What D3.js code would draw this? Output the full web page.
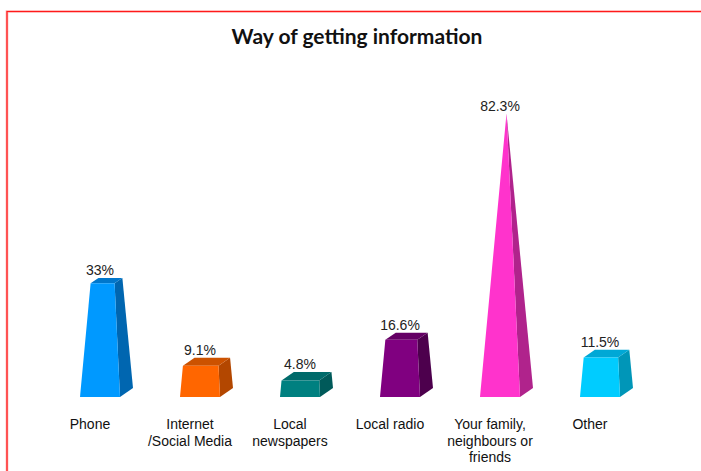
<!DOCTYPE html>
<html>
<head>
<meta charset="utf-8">
<script src="https://cdn.jsdelivr.net/npm/d3@7/dist/d3.min.js"></script>
<style>
  html, body { margin: 0; padding: 0; background: #fff; }
  svg { display: block; }
</style>
</head>
<body>
<script>
// Survey results: how people get information
const categories = [
  "Phone",
  "Internet\n/Social Media",
  "Local\nnewspapers",
  "Local radio",
  "Your family,\nneighbours or\nfriends",
  "Other"
];
const values = [33, 9.1, 4.8, 16.6, 82.3, 11.5];
const valueLabels = ["33%", "9.1%", "4.8%", "16.6%", "82.3%", "11.5%"];

// front / side / top shades for each pyramid
const frontColors = ["#0099ff", "#ff6600", "#008080", "#800080", "#ff33cc", "#00ccff"];
const sideColors  = ["#0066b0", "#b34700", "#005a5a", "#4d004d", "#b0238c", "#0096b8"];
const topColors   = ["#0077cc", "#cc5200", "#006b6b", "#650065", "#d92bae", "#00a8d6"];

const W = 701, H = 471;
const svg = d3.select("body").append("svg").attr("width", W).attr("height", H);

// outer frame
svg.append("path")
  .attr("d", `M7,${H} L7,11.5 L${W},11.5`)
  .attr("fill", "none").attr("stroke", "#ffaaaa").attr("stroke-width", 2.6);
svg.append("path")
  .attr("d", `M7,${H} L7,11.5 L${W},11.5`)
  .attr("fill", "none").attr("stroke", "#ff1a1a").attr("stroke-width", 1.2);

svg.append("text")
  .attr("x", 357).attr("y", 44)
  .attr("text-anchor", "middle")
  .attr("font-family", "Lato, 'Open Sans', sans-serif")
  .attr("font-weight", "bold")
  .attr("font-size", 21)
  .attr("fill", "#111")
  .text("Way of getting information");

const x = d3.scaleBand().domain(categories).range([50, 650]).padding(0);
const y = d3.scaleLinear().domain([0, 90]).range([397, 92]);

const baseW = x.bandwidth() * 0.4;   // front width of the pyramid base
const depthX = 13, depthY = 9;       // oblique depth offset of the base
const apex = d3.max(values);         // pyramids taper to a point at the maximum

// project a 3D point: px horizontal, pz depth fraction (0 front .. 1 back), v value
const proj = (px, pz, v) => [px + pz * depthX, y(v) - pz * depthY];

const g = svg.append("g");
categories.forEach((c, i) => {
  const v = values[i];
  const cx = x(c) + x.bandwidth() / 2;
  const t = v / apex;
  const hw0 = baseW / 2, hw1 = baseW * (1 - t) / 2;
  const z0 = t / 2, z1 = 1 - t / 2;

  const front = [proj(cx - hw0, 0, 0), proj(cx + hw0, 0, 0), proj(cx + hw1, z0, v), proj(cx - hw1, z0, v)];
  const side = [proj(cx + hw0, 0, 0), proj(cx + hw0, 1, 0), proj(cx + hw1, z1, v), proj(cx + hw1, z0, v)];
  const top = [proj(cx - hw1, z0, v), proj(cx + hw1, z0, v), proj(cx + hw1, z1, v), proj(cx - hw1, z1, v)];

  const poly = pts => "M" + pts.map(p => p.join(",")).join("L") + "Z";
  g.append("path").attr("d", poly(side)).attr("fill", sideColors[i]);
  g.append("path").attr("d", poly(top)).attr("fill", topColors[i]);
  g.append("path").attr("d", poly(front)).attr("fill", frontColors[i]);

  const backTop = proj(cx, z1, v)[1];
  svg.append("text")
    .attr("x", cx).attr("y", backTop - 2.5)
    .attr("text-anchor", "middle")
    .attr("font-family", "'Liberation Sans', Arial, sans-serif")
    .attr("font-size", 14)
    .attr("fill", "#222")
    .text(valueLabels[i]);

  const lab = svg.append("text")
    .attr("x", cx - 10).attr("y", 429)
    .attr("text-anchor", "middle")
    .attr("font-family", "'Liberation Sans', Arial, sans-serif")
    .attr("font-size", 14)
    .attr("fill", "#111");
  c.split("\n").forEach((line, k) => {
    lab.append("tspan").attr("x", cx - 10).attr("dy", k === 0 ? 0 : 16.5).text(line);
  });
});
</script>
</body>
</html>
